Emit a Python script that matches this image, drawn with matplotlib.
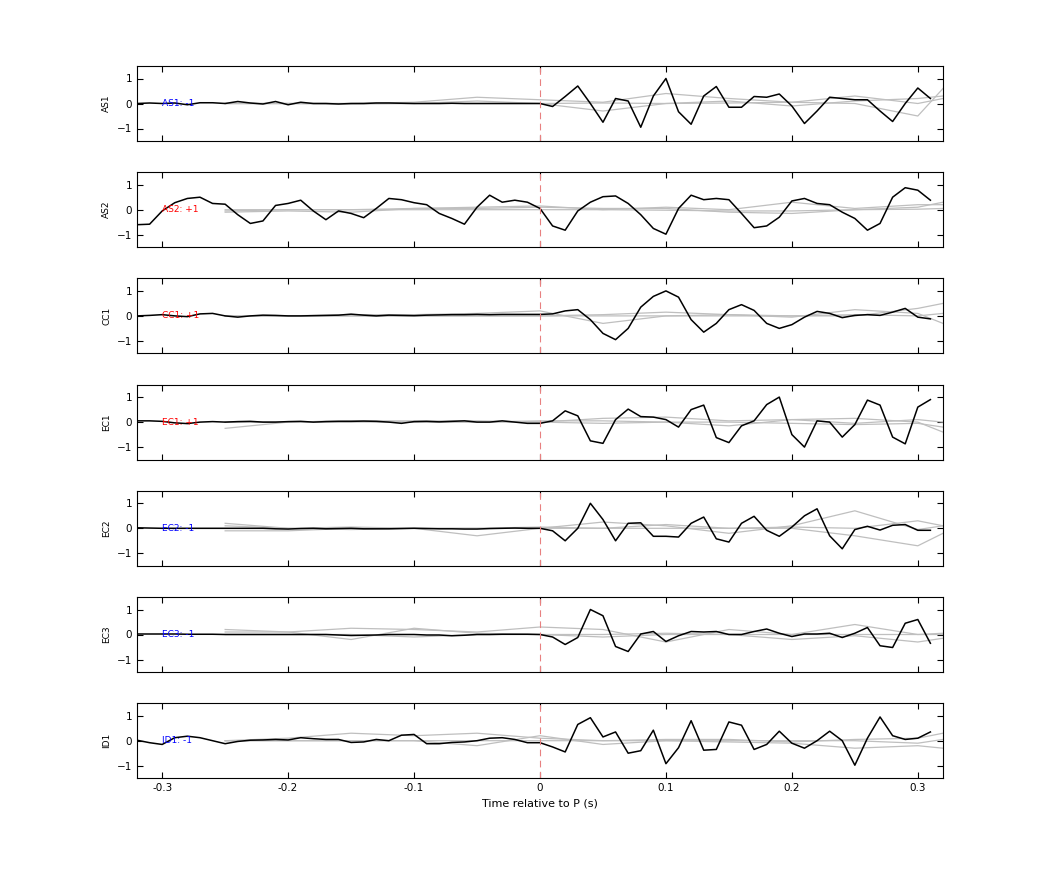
import numpy as np
import matplotlib.pyplot as plt

t = np.round(np.arange(-0.32, 0.315, 0.01), 2)
names = ['AS1', 'AS2', 'CC1', 'EC1', 'EC2', 'EC3', 'ID1']
labels = ['AS1: -1', 'AS2: +1', 'CC1: +1', 'EC1: +1', 'EC2: -1', 'EC3: -1', 'ID1: -1']
label_colors = ['blue', 'red', 'red', 'red', 'blue', 'blue', 'blue']

black = {
    'AS1': [0.0, 0.02, 0.0, 0.02, -0.05, 0.03, 0.03, 0.0, 0.08, 0.02, -0.02, 0.08, -0.05, 0.05, 0.0, 0.0,
            -0.02, 0.0, 0.0, 0.02, 0.02, 0.01, 0.0, 0.0, 0.0, 0.01, 0.0, 0.0, 0.0, 0.0, 0.0, 0.0,
            0.0, -0.12, 0.28, 0.7, 0.0, -0.75, 0.2, 0.1, -0.95, 0.3, 1.0, -0.33, -0.83, 0.3, 0.68, -0.15,
            -0.15, 0.28, 0.25, 0.38, -0.1, -0.8, -0.3, 0.25, 0.2, 0.15, 0.15, -0.3, -0.72, 0.0, 0.62, 0.2],
    'AS2': [-0.6, -0.58, -0.05, 0.28, 0.45, 0.5, 0.25, 0.22, -0.2, -0.55, -0.45, 0.17, 0.25, 0.38, -0.05, -0.4,
            -0.05, -0.15, -0.32, 0.05, 0.45, 0.4, 0.28, 0.2, -0.15, -0.35, -0.58, 0.1, 0.58, 0.3, 0.38, 0.3,
            0.05, -0.65, -0.82, -0.05, 0.3, 0.52, 0.55, 0.25, -0.2, -0.75, -0.98, 0.05, 0.58, 0.4, 0.45, 0.4,
            -0.15, -0.72, -0.65, -0.3, 0.35, 0.45, 0.25, 0.2, -0.1, -0.35, -0.82, -0.55, 0.5, 0.88, 0.78, 0.38],
    'CC1': [0.0, 0.02, 0.05, 0.0, -0.03, 0.08, 0.1, 0.0, -0.05, 0.0, 0.03, 0.02, 0.0, 0.0, 0.01, 0.02,
            0.03, 0.07, 0.03, 0.0, 0.03, 0.02, 0.01, 0.03, 0.04, 0.05, 0.05, 0.06, 0.05, 0.06, 0.06, 0.06,
            0.06, 0.08, 0.2, 0.25, -0.15, -0.7, -0.95, -0.5, 0.35, 0.78, 1.0, 0.75, -0.15, -0.65, -0.3, 0.25,
            0.45, 0.22, -0.3, -0.5, -0.35, -0.05, 0.18, 0.1, -0.07, 0.02, 0.05, 0.02, 0.15, 0.3, -0.05, -0.12],
    'EC1': [0.05, 0.05, 0.03, -0.03, -0.06, 0.0, 0.02, 0.0, 0.02, 0.03, 0.0, 0.0, 0.02, 0.03, 0.0, 0.02,
            0.03, 0.03, 0.04, 0.03, 0.0, -0.05, 0.02, 0.03, 0.01, 0.03, 0.05, 0.0, 0.0, 0.05, 0.0, -0.05,
            -0.05, 0.05, 0.45, 0.25, -0.75, -0.85, 0.1, 0.52, 0.22, 0.2, 0.1, -0.2, 0.5, 0.68, -0.62, -0.82,
            -0.15, 0.05, 0.7, 1.0, -0.5, -1.0, 0.05, 0.0, -0.6, -0.1, 0.88, 0.68, -0.6, -0.87, 0.6, 0.9],
    'EC2': [0.02, 0.01, 0.0, 0.0, 0.0, 0.0, 0.0, 0.0, 0.0, 0.0, 0.0, -0.02, -0.03, -0.01, 0.0, -0.02,
            -0.01, 0.0, -0.02, -0.02, -0.02, -0.01, 0.0, -0.01, -0.02, -0.02, -0.03, -0.03, -0.01, 0.0, 0.01, 0.0,
            0.0, -0.1, -0.5, 0.0, 1.0, 0.35, -0.5, 0.2, 0.22, -0.32, -0.32, -0.35, 0.2, 0.45, -0.42, -0.55,
            0.2, 0.48, -0.08, -0.32, 0.05, 0.5, 0.78, -0.3, -0.82, -0.05, 0.08, -0.07, 0.12, 0.15, -0.08, -0.08],
    'EC3': [0.02, 0.02, 0.02, 0.02, 0.01, 0.01, 0.01, 0.0, 0.0, 0.0, 0.0, 0.0, 0.0, 0.0, 0.0, 0.0,
            -0.02, -0.04, -0.03, -0.02, 0.0, 0.0, 0.0, -0.02, -0.02, -0.05, -0.03, 0.0, 0.0, 0.01, 0.01, 0.01,
            0.0, -0.1, -0.4, -0.12, 1.0, 0.75, -0.48, -0.68, 0.02, 0.12, -0.28, -0.05, 0.12, 0.1, 0.12, 0.0,
            0.0, 0.12, 0.22, 0.05, -0.08, 0.02, 0.02, 0.05, -0.12, 0.05, 0.28, -0.45, -0.52, 0.45, 0.6, -0.35],
    'ID1': [0.02, -0.08, -0.15, 0.12, 0.18, 0.12, 0.0, -0.12, -0.03, 0.02, 0.03, 0.05, 0.03, 0.12, 0.08, 0.05,
            0.05, -0.07, -0.05, 0.05, 0.0, 0.22, 0.25, -0.12, -0.12, -0.07, -0.05, 0.0, 0.1, 0.12, 0.05, -0.08,
            -0.08, -0.25, -0.45, 0.65, 0.92, 0.15, 0.35, -0.5, -0.4, 0.42, -0.92, -0.28, 0.8, -0.38, -0.35, 0.75,
            0.62, -0.35, -0.15, 0.38, -0.1, -0.3, 0.0, 0.38, 0.0, -0.98, 0.1, 0.95, 0.2, 0.05, 0.1, 0.35],
}

tg = [-0.25, -0.2, -0.15, -0.1, -0.05, 0.0, 0.05, 0.1, 0.15, 0.2, 0.25, 0.3, 0.32]
gray = {
    'AS1': [[0.0, 0.0, -0.02, 0.0, 0.1, 0.0, -0.3, 0.0, 0.1, -0.1, 0.1, 0.2, 0.3],
            [0.0, 0.0, 0.0, 0.05, 0.25, 0.15, 0.05, 0.4, 0.2, 0.05, 0.3, 0.0, 0.2],
            [0.0, 0.0, 0.0, 0.0, 0.0, 0.0, 0.02, 0.0, 0.02, 0.05, 0.0, -0.5, 0.6]],
    'AS2': [[-0.05, 0.0, 0.0, 0.05, 0.05, 0.1, 0.05, 0.05, -0.1, -0.15, 0.0, 0.1, 0.3],
            [-0.1, -0.05, -0.1, 0.05, 0.1, 0.15, 0.0, 0.1, 0.0, 0.3, 0.05, 0.2, 0.2],
            [0.0, 0.0, 0.0, 0.0, 0.0, 0.0, 0.0, -0.02, -0.05, -0.05, 0.0, 0.02, 0.05]],
    'CC1': [[0.0, 0.0, 0.05, 0.05, 0.1, 0.2, -0.3, 0.0, 0.05, 0.0, 0.0, 0.3, 0.5],
            [0.0, 0.0, 0.0, 0.0, 0.0, 0.0, 0.05, 0.15, 0.05, -0.05, 0.25, 0.1, -0.3],
            [0.0, 0.0, 0.0, 0.0, 0.0, 0.0, 0.0, 0.0, 0.0, 0.0, 0.05, 0.0, 0.1]],
    'EC1': [[-0.25, 0.0, 0.05, 0.05, 0.05, 0.0, 0.15, 0.2, 0.05, 0.1, 0.15, 0.0, -0.4],
            [0.0, 0.0, 0.05, 0.0, 0.0, 0.05, 0.05, 0.0, -0.15, 0.1, -0.05, 0.1, 0.0],
            [0.0, 0.0, 0.0, 0.0, 0.0, 0.0, -0.05, 0.0, 0.0, -0.05, -0.1, -0.05, -0.2]],
    'EC2': [[0.2, 0.0, -0.05, 0.0, -0.3, 0.0, 0.25, 0.1, -0.2, 0.1, 0.7, -0.05, 0.1],
            [0.1, 0.0, 0.05, 0.0, 0.0, 0.0, 0.0, 0.15, 0.0, 0.05, 0.0, 0.3, 0.1],
            [-0.1, -0.1, 0.0, 0.0, 0.0, 0.05, 0.0, 0.0, 0.0, 0.0, -0.3, -0.7, -0.2]],
    'EC3': [[0.2, 0.1, 0.25, 0.2, 0.1, 0.3, 0.2, -0.3, 0.2, 0.0, 0.4, 0.0, 0.0],
            [0.1, 0.1, -0.2, 0.25, 0.05, 0.0, -0.1, 0.0, 0.0, -0.2, -0.05, -0.3, -0.15],
            [0.0, 0.0, 0.0, -0.1, 0.0, 0.0, 0.0, 0.05, 0.0, 0.0, 0.0, 0.0, 0.05]],
    'ID1': [[0.0, 0.1, 0.3, 0.2, 0.3, 0.1, 0.0, 0.05, 0.05, -0.05, 0.05, 0.1, 0.3],
            [0.0, 0.0, 0.0, 0.0, -0.2, 0.2, -0.15, 0.0, -0.05, -0.1, -0.3, -0.2, -0.3],
            [0.0, 0.0, 0.0, 0.0, 0.0, 0.0, 0.0, 0.0, 0.0, 0.0, 0.0, -0.1, 0.05]],
}

fig = plt.figure(figsize=(10.42, 8.75), dpi=100)
W, H = 1042, 875
for i, name in enumerate(names):
    top = 66 + i * 106.2
    ax = fig.add_axes([137 / W, 1 - (top + 75) / H, 806 / W, 75 / H])
    for g in gray[name]:
        ax.plot(tg, g, color='0.75', lw=0.9)
    ax.plot(t, black[name], color='black', lw=1.1)
    ax.axvline(0, color='#e88080', ls=(0, (6, 4)), lw=0.8)
    ax.text(-0.3, 0, labels[i], color=label_colors[i], fontsize=6.5, va='center')
    ax.set_xlim(-0.32, 0.32)
    ax.set_ylim(-1.5, 1.5)
    ax.set_yticks([-1, 0, 1])
    ax.set_xticks([-0.3, -0.2, -0.1, 0, 0.1, 0.2, 0.3])
    ax.tick_params(direction='in', top=True, right=True, labelsize=7.5, length=4)
    ax.set_ylabel(name, fontsize=6.5)
    if i < len(names) - 1:
        ax.set_xticklabels([])
    else:
        ax.set_xticklabels(['-0.3', '-0.2', '-0.1', '0', '0.1', '0.2', '0.3'])
        ax.set_xlabel('Time relative to P (s)', fontsize=8)

fig.savefig('out.png', dpi=100)
